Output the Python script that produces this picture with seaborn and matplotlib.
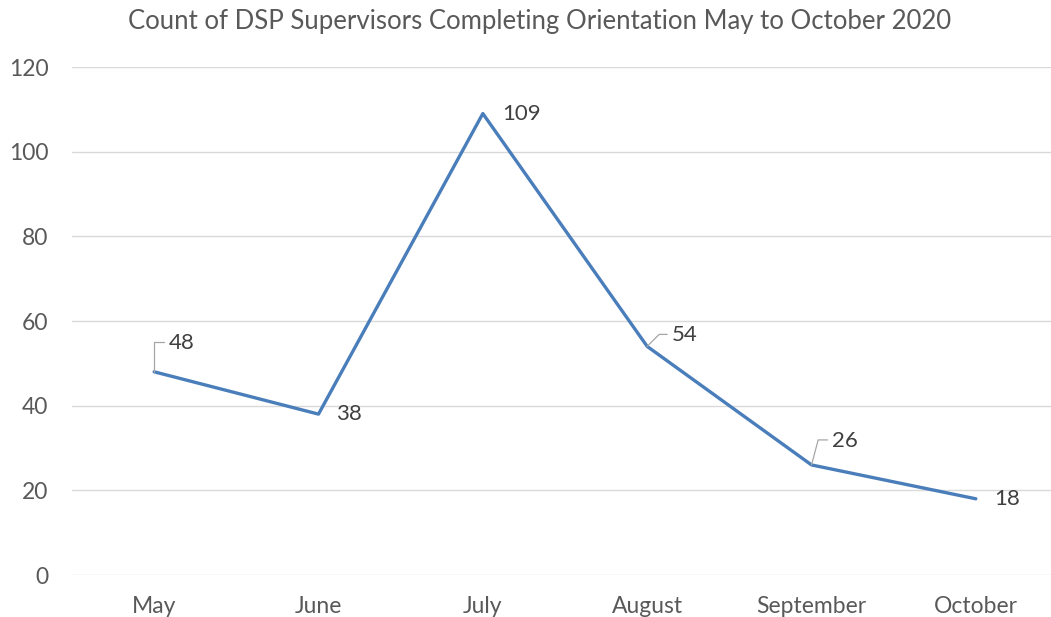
import matplotlib
matplotlib.use("Agg")
import matplotlib.pyplot as plt
import seaborn as sns
import pandas as pd

# data
months = ["May", "June", "July", "August", "September", "October"]
counts = [48, 38, 109, 54, 26, 18]
# label offsets in pixels (dx, dy); leader angle in degrees (None = no leader)
label_dx = [15, 18, 19, 25, 21, 18]
label_dy = [29, 0, 0, 11, 24, 0]
leader_angle = [90, None, None, 45, 75, None]

df = pd.DataFrame({"month": months, "count": counts})

sns.set_theme(style="white")
plt.rcParams['font.family'] = ['Lato', 'DejaVu Sans']

grey = "#595959"
blue = "#4A7EBB"

fig = plt.figure(figsize=(10.51, 6.17), dpi=100)
ax = fig.add_axes([72 / 1051, 42 / 617, (1058 - 72) / 1051, 508 / 617])

sns.lineplot(data=df, x="month", y="count", sort=False, color=blue,
             linewidth=2.4, ax=ax)

ax.set_xlim(-0.5, 5.5)
ax.set_ylim(0, 120)
ax.set_yticks(range(0, 121, 20))
ax.grid(axis="y", color="#D9D9D9", linewidth=1)
ax.set_axisbelow(True)
for s in ax.spines.values():
    s.set_visible(False)
ax.tick_params(axis="both", length=0, labelsize=16.5, labelcolor=grey)
ax.tick_params(axis="y", pad=17)
ax.tick_params(axis="x", pad=15)
ax.set_xlabel("")
ax.set_ylabel("")

# data labels
for i, (m, c) in enumerate(zip(months, counts)):
    dx, dy = label_dx[i], label_dy[i]
    ax.annotate(str(c), xy=(i, c), xytext=(dx, dy), textcoords="offset pixels",
                ha="left", va="center", fontsize=16, color="#404040")
    ang = leader_angle[i]
    if ang is not None:
        ax.annotate("", xy=(i, c), xytext=(dx - 5, dy + 1), textcoords="offset pixels",
                    arrowprops=dict(arrowstyle="-", color="#A6A6A6", lw=0.9,
                                    shrinkA=0, shrinkB=0,
                                    connectionstyle=f"angle,angleA=0,angleB={ang},rad=0"))

fig.text(540 / 1051, 1 - 22 / 617,
         "Count of DSP Supervisors Completing Orientation May to October 2020",
         ha="center", va="center", fontsize=18.5, color=grey)

fig.savefig("out.png", dpi=100)
